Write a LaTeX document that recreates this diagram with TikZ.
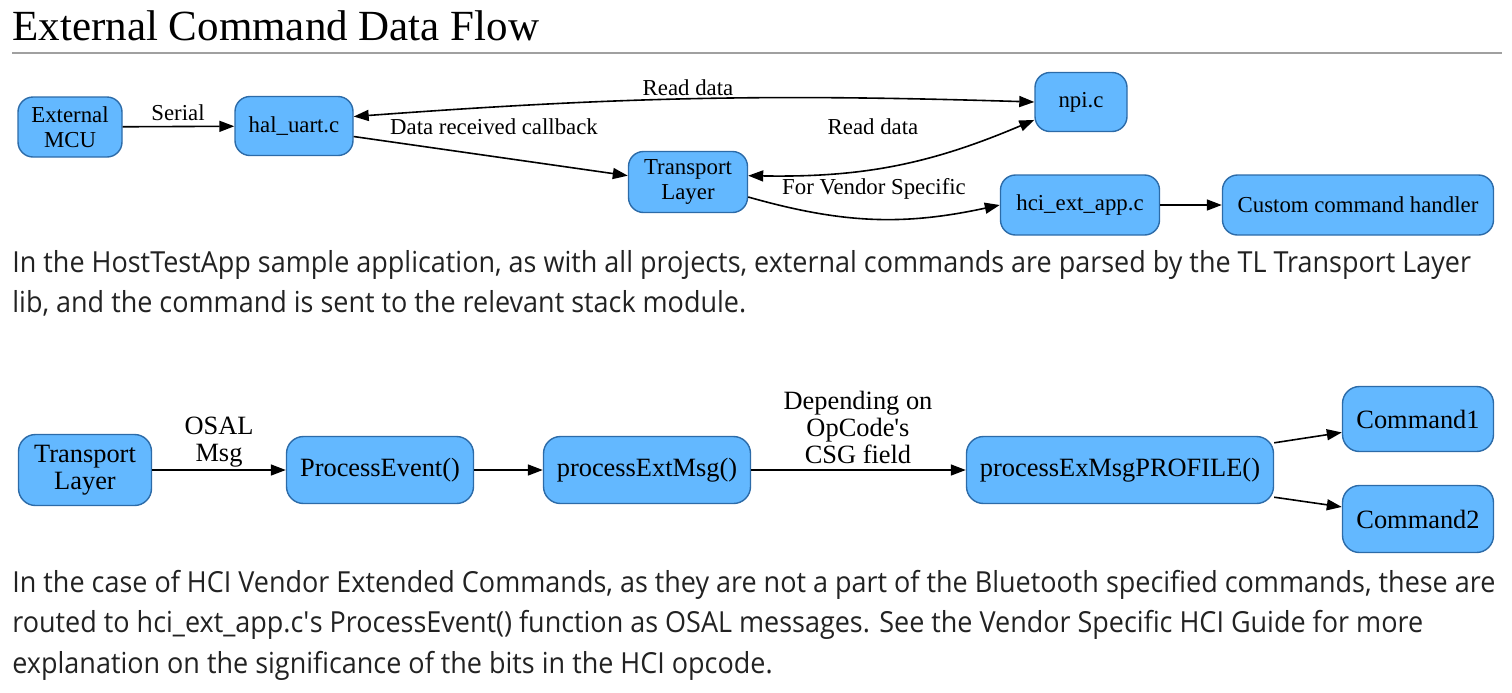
\documentclass[tikz,border=0pt]{standalone}
\usepackage{fontspec}
\setmainfont{Open Sans}
\newfontfamily\gvfont{Liberation Serif}
\newfontfamily\bodyfont[FakeStretch=0.93]{Open Sans}
\usetikzlibrary{arrows.meta, positioning}
\definecolor{boxfill}{HTML}{63B8FF}
\definecolor{boxline}{HTML}{2C6BA8}
\definecolor{rulegray}{HTML}{A0A0A0}
\definecolor{bodytext}{HTML}{222222}

\begin{document}
\begin{tikzpicture}[x=0.5pt, y=-0.5pt, >={Triangle[length=7.5pt, width=5.5pt]},
  box/.style={draw=boxline, fill=boxfill, line width=0.7pt, rounded corners=7.5pt,
    inner sep=0pt, align=center, font=\gvfont\fontsize{11.4}{12.8}\selectfont},
  bigbox/.style={box, rounded corners=8.5pt, font=\gvfont\fontsize{13.2}{13.8}\selectfont},
  flow/.style={->, line width=0.8pt},
  lbl/.style={inner sep=0pt, font=\gvfont\fontsize{11.4}{12.5}\selectfont},
  biglbl/.style={inner sep=0pt, align=center, font=\gvfont\fontsize{13.2}{13.5}\selectfont},
  para/.style={anchor=base west, inner sep=0pt, text=bodytext,
    font=\bodyfont\fontsize{14.5}{20}\selectfont}]

% Page frame
\useasboundingbox (0,0) rectangle (1512,692);

% Heading
\node[anchor=base west, inner sep=0pt, font=\gvfont\fontsize{21.5}{24}\selectfont] (title) at (12,40)
  {External Command Data Flow};
\draw[rulegray, line width=1pt] (12,53) -- (1502,53);

% Upper diagram: nodes
\node[box, minimum width=52pt, minimum height=30pt] (mcu) at (70,127) {External\\MCU};
\node[box, minimum width=59pt, minimum height=29.5pt] (uart) at (294,126) {hal\_uart.c};
\node[box, minimum width=46pt, minimum height=29.5pt] (npi) at (1081,102) {npi.c};
\node[box, minimum width=59.5pt, minimum height=30.5pt] (tl) at (688,182) {Transport\\Layer};
\node[box, minimum width=79.5pt, minimum height=30pt] (hciapp) at (1080,205) {hci\_ext\_app.c};
\node[box, minimum width=135.5pt, minimum height=30pt] (custom) at (1358,205) {Custom command handler};

% Upper diagram: edges
\draw[flow] (mcu) -- (uart);
\draw[flow, <->] (uart.9) to[bend left=3] (npi.west);
\draw[flow] (uart.-10) -- (tl.174);
\draw[flow, <->] (npi.201) to[bend left=12] (tl.6);
\draw[flow] (tl.-14) to[bend right=14] (hciapp.west);
\draw[flow] (hciapp) -- (custom);

% Upper diagram: edge labels
\node[lbl] (lserial) at (178,113) {Serial};
\node[lbl] (lread) at (688,88) {Read data};
\node[lbl] (lcallback) at (494,127) {Data received callback};
\node[lbl] (lreadtl) at (873,127) {Read data};
\node[lbl] (lvendor) at (874,189) {For Vendor Specific};

% First paragraph
\node[para] (pa) at (12,272) {In the HostTestApp sample application, as with all projects, external commands are parsed by the TL Transport Layer};
\node[para] (pb) at (12,312) {lib, and the command is sent to the relevant stack module.};

% Lower diagram: nodes
\node[bigbox, minimum width=66.5pt, minimum height=35.5pt] (tlb) at (85,470) {Transport\\Layer};
\node[bigbox, minimum width=93.5pt, minimum height=33.5pt] (procev) at (380,470) {ProcessEvent()};
\node[bigbox, minimum width=103.5pt, minimum height=33.5pt] (extmsg) at (647,470) {processExtMsg()};
\node[bigbox, minimum width=153.5pt, minimum height=33.5pt] (profile) at (1120,470) {processExMsgPROFILE()};
\node[bigbox, minimum width=75.5pt, minimum height=32.5pt] (cmdone) at (1418,419) {Command1};
\node[bigbox, minimum width=75.5pt, minimum height=33.5pt] (cmdtwo) at (1418,519) {Command2};

% Lower diagram: edges
\draw[flow] (tlb) -- (procev);
\draw[flow] (procev) -- (extmsg);
\draw[flow] (extmsg) -- (profile);
\draw[flow] (profile.10) -- (cmdone.190);
\draw[flow] (profile.-10) -- (cmdtwo.171);

% Lower diagram: edge labels
\node[biglbl] (losal) at (219,442) {OSAL\\Msg};
\node[biglbl] (lopcode) at (858,427) {Depending on\\OpCode\textquotesingle s\\CSG field};

% Second paragraph
\node[para] (pc) at (12,592) {In the case of HCI Vendor Extended Commands, as they are not a part of the Bluetooth specified commands, these are};
\node[para] (pd) at (12,632) {routed to hci\_ext\_app.c\textquotesingle s ProcessEvent() function as OSAL messages. See the Vendor Specific HCI Guide for more};
\node[para] (pe) at (12,673) {explanation on the significance of the bits in the HCI opcode.};

\end{tikzpicture}
\end{document}
